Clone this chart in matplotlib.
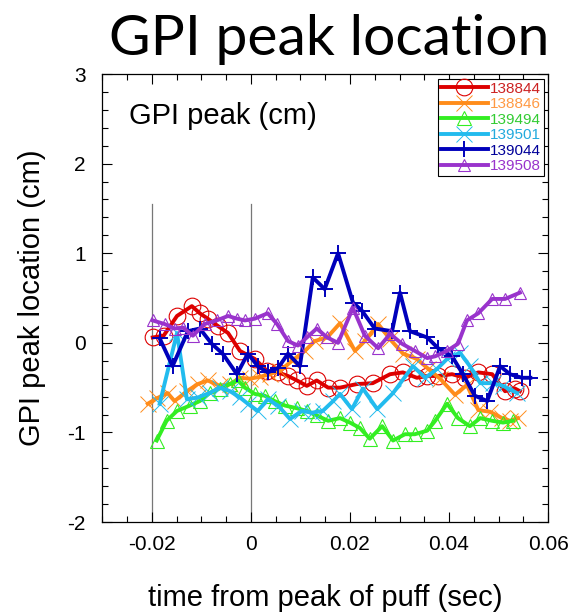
import matplotlib
matplotlib.use("Agg")
import matplotlib.pyplot as plt
import numpy as np
from matplotlib.ticker import MultipleLocator

# ---- data (time in sec, GPI peak location in cm) ----
t_138844 = [-0.0198,-0.0176,-0.0149,-0.0119,-0.0103,-0.0087,-0.0067,-0.0046,-0.0022,0.0008,0.0032,0.0055,0.0075,0.0093,0.0113,0.0133,0.0156,0.0180,0.0214,0.0246,0.0281,0.0307,0.0335,0.0356,0.0378,0.0406,0.0432,0.0459,0.0487,0.0513,0.0533,0.0543]
y_138844 = [0.06,0.08,0.30,0.41,0.33,0.27,0.19,0.11,-0.09,-0.18,-0.31,-0.33,-0.37,-0.42,-0.48,-0.42,-0.50,-0.50,-0.46,-0.45,-0.35,-0.33,-0.39,-0.37,-0.37,-0.35,-0.39,-0.33,-0.35,-0.54,-0.51,-0.54]

t_138846 = [-0.0208,-0.0190,-0.0168,-0.0154,-0.0129,-0.0107,-0.0087,-0.0063,-0.0042,-0.0022,-0.0002,0.0018,0.0038,0.0059,0.0083,0.0109,0.0129,0.0154,0.0180,0.0210,0.0230,0.0257,0.0281,0.0307,0.0335,0.0358,0.0382,0.0412,0.0436,0.0459,0.0483,0.0507,0.0523,0.0539]
y_138846 = [-0.68,-0.62,-0.56,-0.65,-0.54,-0.46,-0.42,-0.48,-0.46,-0.39,-0.40,-0.38,-0.35,-0.31,-0.20,-0.09,0.02,0.06,0.22,-0.09,0.02,0.21,0.04,-0.12,-0.18,-0.29,-0.40,-0.58,-0.47,-0.75,-0.77,-0.84,-0.87,-0.84]

t_139494 = [-0.0190,-0.0170,-0.0149,-0.0123,-0.0103,-0.0083,-0.0063,-0.0042,-0.0026,-0.0012,0.0008,0.0028,0.0048,0.0069,0.0093,0.0113,0.0133,0.0156,0.0180,0.0200,0.0220,0.0240,0.0265,0.0287,0.0311,0.0331,0.0356,0.0372,0.0396,0.0418,0.0442,0.0463,0.0487,0.0509,0.0529]
y_139494 = [-1.09,-0.87,-0.76,-0.70,-0.65,-0.56,-0.51,-0.46,-0.42,-0.50,-0.57,-0.59,-0.65,-0.70,-0.73,-0.76,-0.81,-0.87,-0.84,-0.89,-0.95,-1.07,-0.93,-1.09,-1.02,-1.02,-0.98,-0.87,-0.68,-0.84,-0.93,-0.84,-0.87,-0.89,-0.87]

t_139501 = [-0.0184,-0.0149,-0.0129,-0.0107,-0.0083,-0.0063,-0.0042,-0.0022,-0.0006,0.0014,0.0034,0.0055,0.0079,0.0103,0.0123,0.0145,0.0166,0.0180,0.0204,0.0226,0.0255,0.0287,0.0327,0.0352,0.0376,0.0396,0.0422,0.0442,0.0463,0.0489,0.0509,0.0537]
y_139501 = [-0.68,0.11,-0.63,-0.61,-0.56,-0.50,-0.54,-0.61,-0.68,-0.76,-0.63,-0.70,-0.85,-0.76,-0.78,-0.76,-0.65,-0.57,-0.74,-0.51,-0.74,-0.56,-0.26,-0.39,-0.29,-0.18,-0.11,-0.26,-0.45,-0.45,-0.48,-0.56]

t_139044 = [-0.0184,-0.0158,-0.0127,-0.0103,-0.0079,-0.0057,-0.0028,-0.0006,0.0014,0.0034,0.0055,0.0075,0.0099,0.0125,0.0149,0.0176,0.0206,0.0224,0.0250,0.0285,0.0301,0.0321,0.0356,0.0378,0.0406,0.0428,0.0452,0.0477,0.0503,0.0523,0.0547,0.0564]
y_139044 = [0.05,-0.26,0.13,0.16,-0.01,-0.12,-0.35,-0.12,-0.26,-0.33,-0.28,-0.12,-0.26,0.73,0.60,1.00,0.45,0.36,0.16,0.13,0.56,0.13,0.06,-0.06,-0.15,-0.35,-0.59,-0.65,-0.26,-0.35,-0.39,-0.39]

t_139508 = [-0.0198,-0.0174,-0.0154,-0.0137,-0.0117,-0.0093,-0.0069,-0.0046,-0.0028,-0.0012,0.0008,0.0034,0.0053,0.0075,0.0095,0.0113,0.0133,0.0154,0.0176,0.0206,0.0230,0.0257,0.0281,0.0305,0.0331,0.0356,0.0372,0.0396,0.0418,0.0436,0.0459,0.0487,0.0513,0.0543]
y_139508 = [0.25,0.21,0.16,0.17,0.08,0.21,0.25,0.30,0.27,0.25,0.27,0.33,0.21,0.02,-0.03,0.06,0.16,0.06,0.00,0.39,0.08,-0.06,0.10,-0.01,-0.09,-0.17,-0.15,-0.09,-0.01,0.25,0.33,0.49,0.49,0.56]

shots = ["138844", "138846", "139494", "139501", "139044", "139508"]
times = [t_138844, t_138846, t_139494, t_139501, t_139044, t_139508]
values = [y_138844, y_138846, y_139494, y_139501, y_139044, y_139508]

line_colors = ["#dd0000", "#ff8c1a", "#33ee22", "#22bbee", "#0000bb", "#9933cc"]
text_colors = ["#cc2222", "#ff9a44", "#33cc33", "#22aadd", "#000099", "#9933cc"]
markers = ["o", "x", "^", "x", "+", "^"]
msizes = [12, 12, 10, 12, 12, 9]
mews = [0.8, 0.7, 0.8, 0.7, 1.4, 0.8]

marker_lines = [-0.02, 0.0]

plt.rcParams['font.family'] = ['Liberation Sans', 'DejaVu Sans']

fig = plt.figure(figsize=(5.74, 6.12), dpi=100)
ax = fig.add_axes([0.178, 0.147, 0.777, 0.732])

for xv in marker_lines:
    ax.plot([xv, xv], [-2, 1.55], color="#777777", lw=0.9, zorder=1)

handles = []
for t, y, c, m, ms, mew, lab in zip(times, values, line_colors, markers, msizes, mews, shots):
    filled = m in ("x", "+")
    h, = ax.plot(t, y, color=c, lw=2.8, marker=m, markersize=ms,
                 markerfacecolor=("none" if not filled else c),
                 markeredgecolor=c, markeredgewidth=mew, label=lab, zorder=3)
    handles.append(h)

ax.set_xlim(-0.03, 0.06)
ax.set_ylim(-2, 3)
ax.xaxis.set_minor_locator(MultipleLocator(0.005))
ax.yaxis.set_minor_locator(MultipleLocator(0.2))
ax.set_xticks([-0.02, 0, 0.02, 0.04, 0.06])
ax.set_xticklabels(["-0.02", "0", "0.02", "0.04", "0.06"])
ax.set_yticks([-2, -1, 0, 1, 2, 3])
ax.set_yticklabels(["-2", "-1", "0", "1", "2", "3"])
ax.tick_params(which="both", direction="in", top=True, right=True, labelsize=15, width=0.8)
ax.tick_params(which="major", length=7)
ax.tick_params(axis="x", which="major", pad=9)
ax.tick_params(axis="y", which="major", pad=12)
ax.tick_params(which="minor", length=4)
for s in ax.spines.values():
    s.set_linewidth(0.9)

ax.set_xlabel("time from peak of puff (sec)", fontsize=21, labelpad=22)
ax.set_ylabel("GPI peak location (cm)", fontsize=21, labelpad=15)

ax.text(-0.0245, 2.53, "GPI peak (cm)", fontsize=21, va="center", ha="left")

leg = ax.legend(handles=handles, loc="upper right", fontsize=11, handlelength=3.1,
                handletextpad=0.1, labelspacing=0.1, borderpad=0.2,
                borderaxespad=0.3, fancybox=False, edgecolor="black", framealpha=1)
leg.get_frame().set_linewidth(0.8)
for txt, c in zip(leg.get_texts(), text_colors):
    txt.set_color(c)

fig.text(0.573, 0.935, "GPI peak location", fontsize=41, ha="center", va="center",
         family=["Lato", "DejaVu Sans"])

fig.savefig("out.png", dpi=100)
